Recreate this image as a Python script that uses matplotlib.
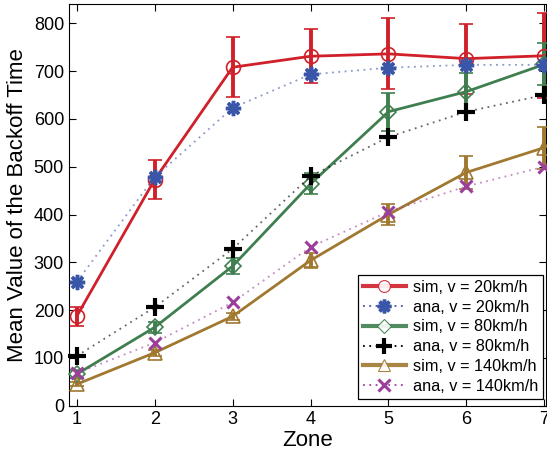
import matplotlib
matplotlib.use("Agg")
import matplotlib.pyplot as plt
from matplotlib.lines import Line2D
import numpy as np

# data
zones = [1, 2, 3, 4, 5, 6, 7]

sim20 = [187, 473, 708, 731, 736, 726, 732]
sim20_err = [20, 40, 63, 56, 74, 73, 89]
ana20 = [259, 478, 623, 693, 707, 713, 713]

sim80 = [66, 164, 292, 464, 615, 657, 714]
sim80_err = [8, 12, 17, 22, 40, 40, 44]
ana80 = [104, 206, 328, 480, 562, 615, 650]

sim140 = [45, 111, 187, 304, 400, 488, 540]
sim140_err = [4, 6, 7, 16, 22, 34, 44]
ana140 = [68, 132, 216, 332, 406, 459, 500]

labels = ["sim, v = 20km/h", "ana, v = 20km/h",
          "sim, v = 80km/h", "ana, v = 80km/h",
          "sim, v = 140km/h", "ana, v = 140km/h"]

RED = "#d0202a"
BLUE = "#3a56a8"
GREEN = "#3f7f4f"
BLACK = "#000000"
BROWN = "#a07830"
PURPLE = "#9b3f9b"

plt.rcParams["font.family"] = ["Liberation Sans", "DejaVu Sans"]

fig = plt.figure(figsize=(5.47, 4.59), dpi=100)
ax = fig.add_axes([0.126, 0.116, 0.872, 0.875])

x = np.array(zones)
handles = []


def sim(y, err, color, marker, label, ms=10):
    ax.errorbar(x, y, yerr=err, color=color, lw=2.0, elinewidth=2.8,
                capsize=5, capthick=2.8, marker=marker, ms=ms, mfc="none",
                mec=color, mew=1.2, clip_on=False, zorder=3)
    handles.append(Line2D([], [], color=color, lw=3.0, marker=marker,
                          ms=ms * 0.85, mfc="white", mec=color, mew=0.8,
                          alpha=0.9, label=label))


def ana(y, color, marker, label, ms=10, mew=2.5):
    ax.plot(x, y, ls=(0, (1, 2.5)), lw=1.3, color=color, alpha=0.6,
            clip_on=False, zorder=4)
    ax.plot(x, y, ls="none", marker=marker, ms=ms, mew=mew, mec=color,
            color=color, clip_on=False, zorder=5)
    handles.append(Line2D([], [], ls=(0, (1, 2.5)), lw=1.3, color=color,
                          marker=marker, ms=ms * 0.9, mew=mew, mec=color,
                          label=label))


sim(sim20, sim20_err, RED, "o", labels[0])
ana(ana20, BLUE, (8, 2, 0), labels[1], ms=11, mew=2.5)
sim(sim80, sim80_err, GREEN, "D", labels[2], ms=8)
ana(ana80, BLACK, "+", labels[3], ms=13, mew=3.0)
sim(sim140, sim140_err, BROWN, "^", labels[4])
ana(ana140, PURPLE, "x", labels[5], ms=9, mew=2.2)

ax.set_xlim(0.9, 7.02)
ax.set_ylim(0, 840)
ax.set_xticks(zones)
ax.set_yticks(np.arange(0, 801, 100))
ax.tick_params(direction="in", length=5, top=True, right=True,
               labelsize=13, width=0.8)
ax.set_xlabel("Zone", fontsize=16, labelpad=2)
ax.set_ylabel("Mean Value of the Backoff Time", fontsize=16, labelpad=4)

leg = ax.legend(handles=handles, loc="lower right",
                bbox_to_anchor=(0.994, 0.017), borderaxespad=0,
                fontsize=11.7, handlelength=2.7, labelspacing=0.3,
                borderpad=0.3, handletextpad=0.4, fancybox=False,
                framealpha=1, edgecolor="black")
leg.get_frame().set_linewidth(0.9)
leg.set_zorder(10)

fig.savefig("out.png", dpi=100)
